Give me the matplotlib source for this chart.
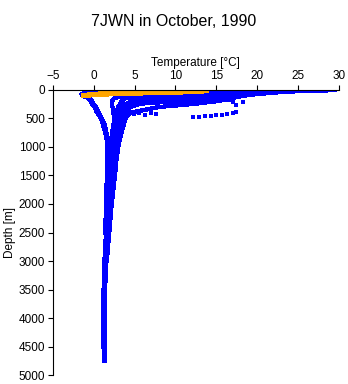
import numpy as np
import matplotlib.pyplot as plt

plt.rcParams["font.family"] = ["Liberation Sans", "DejaVu Sans"]

nan = np.nan

# standard depth levels (m) shared by the deep stations
depth_std = [0, 10, 20, 30, 50, 75, 100, 125, 150, 200, 250, 300, 400, 500, 600,
             700, 800, 1000, 1200, 1500, 2000, 2500, 3000, 3500, 4000, 4500, 4750]

# temperatures (deg C) per station at depth_std, nan below the last sample
st1 = [29.5, 28.5, 26.0, 24.0, 22.0, 20.0, 18.5, 17.5, 16.5, 10.0, 5.0, 4.2, 3.9, 3.7,
       3.5, 3.3, 3.1, 2.9, 2.7, 2.4, 2.0, 1.7, 1.5, 1.4, 1.4, 1.4, 1.4]
st2 = [27.0, 26.0, 25.0, 23.0, 21.0, 19.0, 17.5, 17.0, 15.0, 8.0, 4.5, 4.0, 3.6, 3.4,
       3.0, 2.7, 2.5, 2.3, 2.1, 1.9, 1.7, 1.5, 1.4, 1.3, 1.3, 1.3, nan]
st3 = [24.0, 23.5, 23.0, 22.0, 19.0, 17.0, 15.0, 12.0, 9.0, 5.0, 4.0, 3.5, 3.2, 3.0,
       2.7, 2.5, 2.4, 2.2, 2.0, 1.8, 1.6, 1.5, 1.4, 1.3, 1.2, 1.2, nan]
st4 = [19.0, 18.8, 18.5, 17.5, 15.0, 12.0, 9.0, 7.0, 5.5, 4.5, 4.0, 3.7, 3.3, 3.0,
       2.8, 2.6, 2.4, 2.2, 2.0, 1.8, 1.6, 1.5, 1.4, nan, nan, nan, nan]
st5 = [16.5, 16.3, 16.0, 15.5, 13.0, 9.0, 6.0, 4.5, 3.8, 3.4, 3.2, 3.0, 2.8, 2.6,
       2.4, 2.3, 2.2, 2.0, 1.9, 1.7, 1.5, 1.4, nan, nan, nan, nan, nan]
st6 = [12.0, 11.0, 9.0, 6.0, 1.0, -1.0, -1.2, -1.0, -0.5, -0.2, 0.0, 0.3, 0.6, 1.0,
       1.3, 1.5, 1.6, 1.8, 1.9, 1.9, 1.7, 1.5, 1.4, 1.3, 1.2, 1.2, nan]
st7 = [6.0, 5.0, 3.0, 1.0, -1.0, -1.5, -1.4, -1.0, -0.6, -0.4, -0.2, 0.1, 0.4, 0.9,
       1.1, 1.3, 1.5, 1.7, 1.6, 1.6, 1.5, 1.4, nan, nan, nan, nan, nan]
st8 = [14.0, 13.5, 13.0, 12.0, 9.0, 6.0, 4.0, 3.0, 2.5, 2.2, 2.2, 2.3, 2.4, 2.5,
       2.5, 2.4, 2.3, 2.1, 2.0, 1.8, 1.6, 1.5, 1.4, 1.3, 1.3, 1.3, 1.3]
st9 = [21.0, 20.5, 20.0, 19.0, 17.0, 15.0, 13.0, 11.0, 8.0, 5.0, 4.5, 4.2, 4.0, 3.9,
       3.7, 3.5, 3.3, 3.0, 2.8, 2.6, 2.2, 1.9, 1.6, nan, nan, nan, nan]
st10 = [25.0, 24.5, 24.0, 22.5, 20.0, 18.5, 18.0, 17.5, 17.0, 15.0, 12.0, 8.0, 4.5, 3.8,
        3.3, 3.0, 2.8, 2.6, 2.4, 2.1, 1.8, 1.6, 1.5, 1.4, 1.3, 1.3, nan]
st11 = [22.0, 21.5, 21.0, 20.0, 18.0, 16.0, 14.0, 12.5, 11.0, 7.0, 5.5, 4.5, 3.9, 3.6,
        3.4, 3.3, 3.1, 2.8, 2.5, 2.2, 1.9, 1.7, 1.5, 1.4, nan, nan, nan]
st12 = [17.5, 17.3, 17.0, 16.5, 15.0, 14.0, 13.0, 12.0, 10.5, 6.0, 3.5, 3.0, 2.7, 2.6,
        2.5, 2.4, 2.3, 2.2, 2.0, 1.9, 1.7, 1.5, 1.3, 1.2, 1.2, nan, nan]
blue_stations = [st1, st2, st3, st4, st5, st6, st7, st8, st9, st10, st11, st12]

# isolated blue samples (deg C, m)
odd_temp = [4.9, 5.5, 6.3, 7.0, 7.6, 12.2, 12.9, 13.6, 14.3, 15.0, 15.7, 16.3,
            17.0, 17.4, 16.5, 17.0, 17.4, 18.2]
odd_depth = [420, 400, 440, 410, 430, 470, 475, 460, 455, 440, 435, 420,
             405, 395, 180, 220, 260, 210]

# shallow stations shown in orange
depth_shallow = [15, 25, 35, 45, 55, 65, 80, 100]
ora1 = [13.8, 13.3, 12.0, 10.0, 7.0, 4.0, 1.0, -1.0]
ora2 = [11.0, 10.8, 10.0, 8.0, 5.0, 2.5, 0.0, -1.2]
ora3 = [7.5, 7.3, 7.0, 5.5, 3.0, 1.0, -0.5, -1.3]
ora4 = [12.5, 12.0, 11.0, 9.0, 6.0, 3.0, 0.5, -0.8]
orange_stations = [ora1, ora2, ora3, ora4]

fig = plt.figure(figsize=(3.48, 3.84), dpi=100)
ax = fig.add_axes([0.152, 0.023, 0.822, 0.743])

for t in blue_stations:
    ax.plot(t, depth_std, color="#0000ff", lw=2.3, antialiased=False)
ax.plot(odd_temp, odd_depth, ls="none", color="#0000ff", marker="s", ms=2.2,
        mew=0, antialiased=False)
for t in orange_stations:
    ax.plot(t, depth_shallow, color="orange", lw=2.6, antialiased=False)

ax.set_xlim(-5, 30)
ax.set_ylim(5000, 0)
ax.set_xticks([-5, 0, 5, 10, 15, 20, 25, 30])
ax.set_yticks(np.arange(0, 5001, 500))
ax.xaxis.tick_top()
ax.xaxis.set_label_position("top")
ax.spines["right"].set_visible(False)
ax.spines["bottom"].set_visible(False)
for s in ("top", "left"):
    ax.spines[s].set_linewidth(0.8)
ax.tick_params(labelsize=8.5, length=3.5, width=0.8, pad=2)
ax.set_xlabel("Temperature [°C]", fontsize=8.5, labelpad=3)
ax.set_ylabel("Depth [m]", fontsize=8.5, labelpad=2)
fig.text(0.5, 0.943, "7JWN in October, 1990", ha="center", va="center", fontsize=11.5)

fig.savefig("out.png", dpi=100)
